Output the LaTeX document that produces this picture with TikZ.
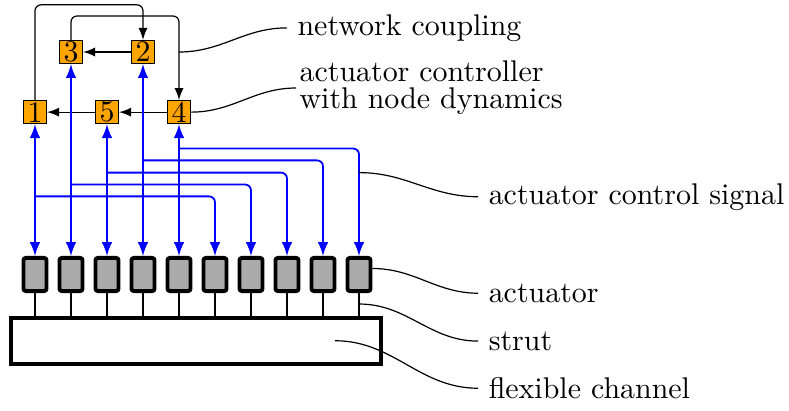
\documentclass[tikz,border=0pt]{standalone}
\usepackage{amsmath,amssymb}
\usepackage{tikz}
\usetikzlibrary{arrows,calc}
\definecolor{ctrlorange}{HTML}{FFA500}
\tikzset{ctrl/.style={rectangle,draw=black,fill=ctrlorange,minimum size=0.27cm,inner sep=0pt}}
\tikzset{actuator/.style={rectangle,draw=black,line width=1.3pt,rounded corners=0.8pt,fill=black!33,minimum width=0.271cm,minimum height=0.389cm,inner sep=0pt}}
\tikzset{channel/.style={rectangle,draw=black,line width=1.3pt,minimum width=4.344cm,minimum height=0.541cm,inner sep=0pt}}
\tikzset{coupling/.style={->,>=latex,rounded corners=2pt}}
\tikzset{signal/.style={blue,semithick,>=latex,rounded corners=2pt}}
\tikzset{callout/.style={thin,out=0,in=180}}
\tikzset{legend/.style={anchor=west}}

\begin{document}
\begin{tikzpicture}[x=0.4226cm,y=0.4226cm]
\useasboundingbox (-0.972,-3.764) rectangle (20.944,7.625);

% controllers
\node (n1) at (0,4.51)[ctrl]{1};
\node (n5) at (2,4.51)[ctrl]{5};
\node (n4) at (4,4.51)[ctrl]{4};
\node (n3) at (1,6.18)[ctrl]{3};
\node (n2) at (3,6.18)[ctrl]{2};

% actuators and channel
\node (a0) at (0,0)[actuator]{};
\node (a1) at (1,0)[actuator]{};
\node (a2) at (2,0)[actuator]{};
\node (a3) at (3,0)[actuator]{};
\node (a4) at (4,0)[actuator]{};
\node (a5) at (5,0)[actuator]{};
\node (a6) at (6,0)[actuator]{};
\node (a7) at (7,0)[actuator]{};
\node (a8) at (8,0)[actuator]{};
\node (a9) at (9,0)[actuator]{};
\node (ch) at (4.472,-1.847)[channel]{};

% struts
\draw (a0) -- (a0 |- ch.north);
\draw (a1) -- (a1 |- ch.north);
\draw (a2) -- (a2 |- ch.north);
\draw (a3) -- (a3 |- ch.north);
\draw (a4) -- (a4 |- ch.north);
\draw (a5) -- (a5 |- ch.north);
\draw (a6) -- (a6 |- ch.north);
\draw (a7) -- (a7 |- ch.north);
\draw (a8) -- (a8 |- ch.north);
\draw (a9) -- (a9 |- ch.north);

% coupling between controllers
\draw[coupling] (n2) -- (n3);
\draw[coupling] (n4) -- (n5);
\draw[coupling] (n5) -- (n1);
\draw[coupling] (n1.north) -- (0,7.49) -| (n2.north);
\draw[coupling] (n3.north) -- (1,7.18) -| (n4.north);
\coordinate (tap) at (4,6.18);

% control signals
\draw[signal,<->] (n1) -- (a0);
\draw[signal,<->] (n3) -- (a1);
\draw[signal,<->] (n5) -- (a2);
\draw[signal,<->] (n2) -- (a3);
\draw[signal,<->] (n4) -- (a4);
\draw[signal,->] (0,2.17) -| (a5);
\draw[signal,->] (1,2.5) -| (a6);
\draw[signal,->] (2,2.83) -| (a7);
\draw[signal,->] (3,3.17) -| (a8);
\draw[signal,->] (4,3.5) -| (a9);

% labels
\node (l1) at (7.0,6.85)[legend]{network coupling};
\node (l2) at (7.25,5.18)[legend,align=left,inner sep=1pt,font=\linespread{0.75}\selectfont]{actuator controller\\with node dynamics};
\node (l3) at (12.31,2.16)[legend]{actuator control signal};
\node (l4) at (12.31,-0.52)[legend]{actuator};
\node (l5) at (12.31,-1.85)[legend]{strut};
\node (l6) at (12.31,-3.16)[legend]{flexible channel};

\draw[callout] (tap) to (l1.west);
\draw[callout] (n4) to (l2.west);
\draw[callout] (9,2.83) to (l3.west);
\draw[callout] ([yshift=2pt]a9.east) to (l4.west);
\draw[callout] (9,-0.82) to (l5.west);
\draw[callout] (8.33,-1.84) to (l6.west);
\end{tikzpicture}
\end{document}
